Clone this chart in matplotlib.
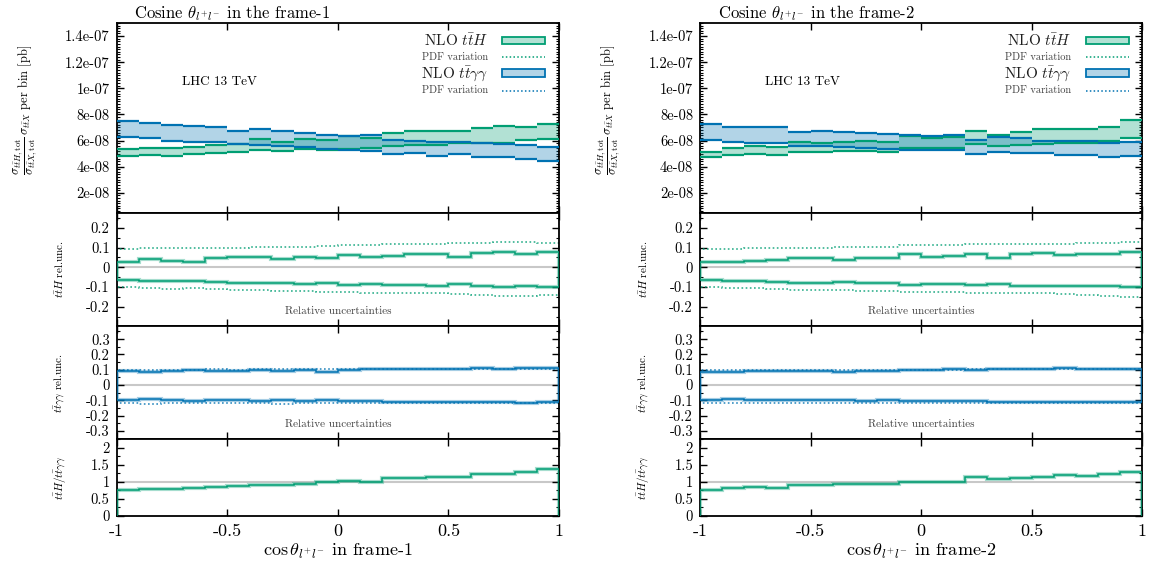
import numpy as np
import matplotlib as mpl
mpl.use('Agg')
import matplotlib.pyplot as plt
from matplotlib.patches import Rectangle
from matplotlib.lines import Line2D
from matplotlib.ticker import MultipleLocator

mpl.rcParams['font.family'] = 'serif'
mpl.rcParams['font.serif'] = ['cmr10', 'DejaVu Serif']
mpl.rcParams['mathtext.fontset'] = 'cm'
mpl.rcParams['axes.unicode_minus'] = False
mpl.rcParams['axes.formatter.use_mathtext'] = True
mpl.rcParams['axes.linewidth'] = 1.3

# ---------------- data ----------------
edges = [-1.0, -0.9, -0.8, -0.7, -0.6, -0.5, -0.4, -0.3, -0.2, -0.1, 0.0,
         0.1, 0.2, 0.3, 0.4, 0.5, 0.6, 0.7, 0.8, 0.9, 1.0]

# frame-1, top panel bands (units of 1e-8 pb)
f1_tth_hi = [5.32, 5.45, 5.40, 5.52, 5.65, 5.72, 6.10, 5.90, 6.10, 6.05, 6.33, 6.20, 6.59, 6.72, 6.72, 6.72, 6.97, 7.10, 7.00, 7.26]
f1_tth_lo = [4.81, 4.89, 4.81, 4.94, 5.01, 5.09, 5.27, 5.19, 5.32, 5.27, 5.32, 5.40, 5.57, 5.65, 5.65, 5.78, 5.83, 5.83, 6.03, 6.10]
f1_tta_hi = [7.52, 7.36, 7.21, 7.13, 7.00, 6.75, 6.85, 6.72, 6.59, 6.39, 6.33, 6.41, 6.05, 5.98, 5.88, 5.92, 5.80, 5.75, 5.62, 5.48]
f1_tta_lo = [6.24, 6.16, 5.98, 5.90, 5.85, 5.72, 5.65, 5.57, 5.52, 5.32, 5.27, 5.22, 4.94, 5.01, 4.81, 4.96, 4.71, 4.76, 4.56, 4.40]
# frame-1, relative uncertainties
f1_tth_up = [0.028, 0.040, 0.034, 0.028, 0.045, 0.050, 0.054, 0.042, 0.054, 0.045, 0.060, 0.054, 0.055, 0.066, 0.069, 0.054, 0.071, 0.076, 0.067, 0.076]
f1_tth_dn = [-0.064, -0.071, -0.068, -0.068, -0.076, -0.080, -0.081, -0.078, -0.083, -0.080, -0.088, -0.083, -0.088, -0.091, -0.093, -0.086, -0.096, -0.100, -0.095, -0.100]
f1_tth_pdf_up = [0.091, 0.096, 0.096, 0.096, 0.100, 0.100, 0.102, 0.105, 0.105, 0.107, 0.113, 0.113, 0.118, 0.118, 0.118, 0.122, 0.122, 0.127, 0.127, 0.122]
f1_tth_pdf_dn = [-0.098, -0.107, -0.108, -0.107, -0.112, -0.115, -0.115, -0.118, -0.118, -0.127, -0.124, -0.129, -0.129, -0.132, -0.132, -0.135, -0.140, -0.146, -0.146, -0.140]
f1_tta_up = [0.092, 0.087, 0.094, 0.096, 0.094, 0.094, 0.098, 0.094, 0.100, 0.087, 0.100, 0.102, 0.102, 0.107, 0.105, 0.107, 0.109, 0.102, 0.111, 0.109]
f1_tta_dn = [-0.098, -0.092, -0.098, -0.102, -0.100, -0.100, -0.105, -0.098, -0.105, -0.098, -0.105, -0.107, -0.109, -0.109, -0.111, -0.111, -0.111, -0.109, -0.115, -0.111]
f1_tta_pdf_up = [0.100, 0.101, 0.100, 0.101, 0.102, 0.101, 0.103, 0.102, 0.103, 0.102, 0.104, 0.104, 0.105, 0.105, 0.106, 0.106, 0.107, 0.106, 0.108, 0.108]
f1_tta_pdf_dn = [-0.120, -0.121, -0.120, -0.120, -0.119, -0.120, -0.119, -0.121, -0.120, -0.118, -0.119, -0.118, -0.118, -0.117, -0.117, -0.117, -0.116, -0.116, -0.115, -0.115]
f1_ratio = [0.744, 0.774, 0.784, 0.813, 0.833, 0.873, 0.913, 0.903, 0.942, 0.982, 1.022, 1.002, 1.111, 1.111, 1.141, 1.131, 1.220, 1.240, 1.290, 1.369]

# frame-2
f2_tth_hi = [5.14, 5.40, 5.57, 5.52, 5.90, 5.83, 5.90, 5.98, 5.90, 6.36, 6.23, 6.30, 6.75, 6.46, 6.67, 6.85, 6.92, 6.92, 7.00, 7.57]
f2_tth_lo = [4.71, 4.89, 4.94, 4.89, 5.14, 5.09, 5.22, 5.22, 5.14, 5.40, 5.40, 5.40, 5.73, 5.57, 5.65, 5.73, 5.83, 5.83, 5.98, 6.23]
f2_tta_hi = [7.26, 7.00, 7.05, 7.00, 6.67, 6.75, 6.67, 6.59, 6.49, 6.41, 6.33, 6.41, 6.05, 6.30, 6.20, 6.00, 5.98, 5.98, 5.83, 5.90]
f2_tta_lo = [6.03, 5.85, 5.83, 5.83, 5.57, 5.57, 5.47, 5.40, 5.32, 5.27, 5.27, 5.27, 4.96, 5.14, 5.01, 5.01, 4.89, 4.89, 4.76, 4.81]
f2_tth_up = [0.025, 0.029, 0.034, 0.037, 0.049, 0.045, 0.037, 0.045, 0.049, 0.066, 0.054, 0.057, 0.066, 0.045, 0.069, 0.071, 0.064, 0.066, 0.066, 0.079]
f2_tth_dn = [-0.064, -0.068, -0.070, -0.073, -0.078, -0.078, -0.076, -0.080, -0.081, -0.090, -0.086, -0.086, -0.090, -0.083, -0.093, -0.096, -0.095, -0.095, -0.095, -0.102]
f2_tth_pdf_up = [0.091, 0.093, 0.096, 0.096, 0.100, 0.100, 0.105, 0.105, 0.105, 0.113, 0.113, 0.113, 0.117, 0.117, 0.117, 0.120, 0.120, 0.122, 0.122, 0.127]
f2_tth_pdf_dn = [-0.102, -0.105, -0.107, -0.108, -0.115, -0.115, -0.115, -0.118, -0.118, -0.125, -0.125, -0.125, -0.129, -0.132, -0.132, -0.132, -0.137, -0.140, -0.146, -0.149]
f2_tta_up = [0.087, 0.087, 0.094, 0.094, 0.092, 0.092, 0.087, 0.094, 0.092, 0.098, 0.098, 0.102, 0.098, 0.106, 0.102, 0.102, 0.111, 0.106, 0.104, 0.106]
f2_tta_dn = [-0.098, -0.094, -0.098, -0.098, -0.098, -0.098, -0.098, -0.102, -0.098, -0.106, -0.102, -0.102, -0.106, -0.111, -0.109, -0.109, -0.113, -0.111, -0.111, -0.111]
f2_tta_pdf_up = [0.098, 0.098, 0.098, 0.099, 0.099, 0.099, 0.099, 0.100, 0.100, 0.100, 0.101, 0.101, 0.102, 0.102, 0.103, 0.103, 0.104, 0.105, 0.105, 0.106]
f2_tta_pdf_dn = [-0.115, -0.115, -0.114, -0.115, -0.114, -0.115, -0.115, -0.116, -0.117, -0.118, -0.116, -0.116, -0.116, -0.115, -0.115, -0.115, -0.115, -0.114, -0.114, -0.114]
f2_ratio = [0.744, 0.813, 0.843, 0.813, 0.913, 0.893, 0.923, 0.942, 0.942, 0.992, 0.992, 0.992, 1.141, 1.071, 1.111, 1.141, 1.190, 1.161, 1.240, 1.290]

top_ticks = [2e-8, 4e-8, 6e-8, 8e-8, 1e-7, 1.2e-7, 1.4e-7]
top_labels = ['2e-08', '4e-08', '6e-08', '8e-08', '1e-07', '1.2e-07', '1.4e-07']
x_ticks = [-1, -0.5, 0, 0.5, 1]
x_labels = ['-1', '-0.5', '0', '0.5', '1']

GREEN = '#009E73'
BLUE = '#0072B2'
GREY = '#c8c8c8'

fig = plt.figure(figsize=(11.53, 5.74), dpi=100)


def style(ax):
    ax.set_xlim(-1, 1)
    ax.set_xticks(x_ticks)
    ax.tick_params(which='both', direction='in', top=True, right=True, labelbottom=False)
    ax.tick_params(which='major', length=5, width=1.0, labelsize=10.5, pad=5)
    ax.tick_params(which='minor', length=2.5, width=0.8)


def rel_unc(ax, up, dn, pdf_up, pdf_dn, c):
    e = np.array(edges)
    ax.axhline(0, color=GREY, lw=1.5, zorder=1)
    for vals in (up, dn):
        ax.stairs(vals, e, color=c, lw=3.0, alpha=0.35, zorder=2)
        ax.stairs(vals, e, color=c, lw=1.1, zorder=3)
    for vals in (pdf_up, pdf_dn):
        ax.stairs(vals, e, color=c, lw=1.2, ls=(0, (1, 1.5)), alpha=0.8, zorder=2)
    ax.text(0, 0.09, 'Relative uncertainties', transform=ax.get_xaxis_transform(),
            ha='center', va='bottom', fontsize=8, color='#404040')


def column(x0, d, title, xlab):
    w = 0.3836
    e = np.array(edges)
    ax1 = fig.add_axes([x0, 0.6294, w, 0.3305])
    ax2 = fig.add_axes([x0, 0.4321, w, 0.1973])
    ax3 = fig.add_axes([x0, 0.2347, w, 0.1974])
    ax4 = fig.add_axes([x0, 0.1016, w, 0.1331])
    for ax in (ax1, ax2, ax3, ax4):
        style(ax)

    # ---- top panel: scale bands
    for lo, hi, c in ((d['tth_lo'], d['tth_hi'], GREEN), (d['tta_lo'], d['tta_hi'], BLUE)):
        lo = np.array(lo) * 1e-8
        hi = np.array(hi) * 1e-8
        ax1.stairs(hi, e, baseline=lo, fill=True, color=c, alpha=0.3, lw=0, zorder=2)
        ax1.hlines(lo, e[:-1], e[1:], color=c, lw=1.6, zorder=3)
        ax1.hlines(hi, e[:-1], e[1:], color=c, lw=1.6, zorder=3)
    ax1.set_ylim(0.47e-8, 1.5e-7)
    ax1.set_yticks(top_ticks, top_labels)
    ax1.yaxis.set_minor_locator(MultipleLocator(2e-9))
    ax1.set_title(title, loc='left', x=0.04, fontsize=12, pad=3)
    ax1.text(-0.705, 1.05e-7, 'LHC 13 TeV', fontsize=9.5, va='center', ha='left')
    ax1.text(-0.207, 0.54, r'$\dfrac{\sigma_{t\bar{t}H,\rm tot}}{\sigma_{t\bar{t}X,\rm tot}}\,\sigma_{t\bar{t}X}$ per bin [pb]',
             transform=ax1.transAxes, rotation=90, ha='center', va='center', fontsize=9)

    # manual legend (gnuplot style: text left of key)
    rows = [(0.907, r'NLO $t\bar{t}H$', 11, GREEN, 'box'),
            (0.819, 'PDF variation', 7.5, GREEN, 'dot'),
            (0.735, r'NLO $t\bar{t}\gamma\gamma$', 11, BLUE, 'box'),
            (0.643, 'PDF variation', 7.5, BLUE, 'dot')]
    for yy, lab, fs, c, kind in rows:
        ax1.text(0.84, yy, lab, transform=ax1.transAxes, ha='right', va='center', fontsize=fs,
                 color='#202020' if kind == 'box' else '#404040')
        if kind == 'box':
            ax1.add_patch(Rectangle((0.872, yy - 0.02), 0.097, 0.04, transform=ax1.transAxes,
                                    facecolor=c, alpha=0.3, lw=0))
            ax1.add_patch(Rectangle((0.872, yy - 0.02), 0.097, 0.04, transform=ax1.transAxes,
                                    facecolor='none', edgecolor=c, lw=1.3))
        else:
            ax1.add_line(Line2D([0.872, 0.969], [yy, yy], transform=ax1.transAxes, color=c,
                                lw=1.1, ls=(0, (1, 1.5))))

    # ---- ttH relative uncertainties
    rel_unc(ax2, d['tth_up'], d['tth_dn'], d['tth_pdf_up'], d['tth_pdf_dn'], GREEN)
    ax2.set_ylim(-0.298, 0.277)
    ax2.set_yticks([-0.2, -0.1, 0, 0.1, 0.2], ['-0.2', '-0.1', '0', '0.1', '0.2'])
    ax2.yaxis.set_minor_locator(MultipleLocator(0.05))
    ax2.text(-0.128, 0.5, r'$t\bar{t}H$ rel.unc.', transform=ax2.transAxes, rotation=90,
             ha='center', va='center', fontsize=8)

    # ---- ttyy relative uncertainties
    rel_unc(ax3, d['tta_up'], d['tta_dn'], d['tta_pdf_up'], d['tta_pdf_dn'], BLUE)
    ax3.set_ylim(-0.354, 0.386)
    ax3.set_yticks([-0.3, -0.2, -0.1, 0, 0.1, 0.2, 0.3],
                   ['-0.3', '-0.2', '-0.1', '0', '0.1', '0.2', '0.3'])
    ax3.yaxis.set_minor_locator(MultipleLocator(0.05))
    ax3.text(-0.128, 0.5, r'$t\bar{t}\gamma\gamma$ rel.unc.', transform=ax3.transAxes, rotation=90,
             ha='center', va='center', fontsize=8)

    # ---- ratio
    ax4.axhline(1, color=GREY, lw=1.5, zorder=1)
    ax4.stairs(d['ratio'], e, color=GREEN, lw=3.0, alpha=0.35, zorder=2)
    ax4.stairs(d['ratio'], e, color=GREEN, lw=1.1, zorder=3)
    ax4.set_ylim(0, 2.25)
    ax4.set_yticks([0, 0.5, 1, 1.5, 2], ['0', '0.5', '1', '1.5', '2'])
    ax4.yaxis.set_minor_locator(MultipleLocator(0.25))
    ax4.text(-0.128, 0.5, r'$t\bar{t}H/t\bar{t}\gamma\gamma$', transform=ax4.transAxes, rotation=90,
             ha='center', va='center', fontsize=8)
    ax4.tick_params(axis='x', labelbottom=True, labelsize=13, pad=6)
    ax4.set_xticks(x_ticks, x_labels)
    ax4.set_xlabel(xlab, fontsize=13, labelpad=2)


frame1 = dict(tth_hi=f1_tth_hi, tth_lo=f1_tth_lo, tta_hi=f1_tta_hi, tta_lo=f1_tta_lo,
              tth_up=f1_tth_up, tth_dn=f1_tth_dn, tth_pdf_up=f1_tth_pdf_up, tth_pdf_dn=f1_tth_pdf_dn,
              tta_up=f1_tta_up, tta_dn=f1_tta_dn, tta_pdf_up=f1_tta_pdf_up, tta_pdf_dn=f1_tta_pdf_dn,
              ratio=f1_ratio)
frame2 = dict(tth_hi=f2_tth_hi, tth_lo=f2_tth_lo, tta_hi=f2_tta_hi, tta_lo=f2_tta_lo,
              tth_up=f2_tth_up, tth_dn=f2_tth_dn, tth_pdf_up=f2_tth_pdf_up, tth_pdf_dn=f2_tth_pdf_dn,
              tta_up=f2_tta_up, tta_dn=f2_tta_dn, tta_pdf_up=f2_tta_pdf_up, tta_pdf_dn=f2_tta_pdf_dn,
              ratio=f2_ratio)

column(0.1012, frame1, r'Cosine $\theta_{l^{+}l^{-}}$ in the frame-1', r'$\cos\theta_{l^{+}l^{-}}$ in frame-1')
column(0.6071, frame2, r'Cosine $\theta_{l^{+}l^{-}}$ in the frame-2', r'$\cos\theta_{l^{+}l^{-}}$ in frame-2')

fig.savefig('out.png', dpi=100)
